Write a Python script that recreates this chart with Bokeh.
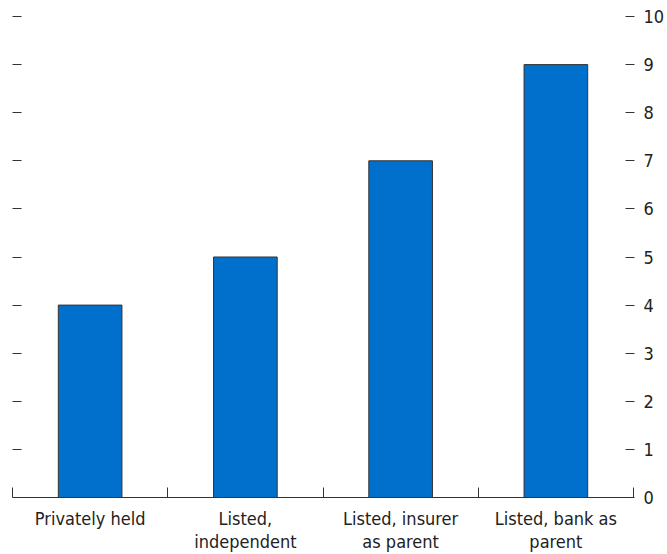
import numpy as np
from bokeh.plotting import figure
from bokeh.models import Range1d, LinearAxis, FixedTicker, ColumnDataSource
from bokeh.embed import file_html
from bokeh.resources import INLINE

categories = ["Privately held", "Listed,\nindependent", "Listed, insurer\nas parent", "Listed, bank as\nparent"]
values = [4, 5, 7, 9]
y_ticks = [0, 1, 2, 3, 4, 5, 6, 7, 8, 9, 10]

FONT = "'Liberation Sans Narrow', 'DejaVu Sans Condensed', 'Roboto Condensed', 'Arial Narrow', Roboto, sans-serif"
DARK = "#333333"

idx = list(range(len(categories)))
src = ColumnDataSource(dict(x=idx, top=values))

p = figure(width=667, height=554, output_backend="svg", toolbar_location=None,
           x_range=Range1d(-0.5, len(categories) - 0.5), y_range=Range1d(0, 10),
           min_border_left=12, min_border_right=33, min_border_top=16, min_border_bottom=57,
           y_axis_location=None, x_axis_location=None)
p.outline_line_color = None
p.grid.visible = False
p.background_fill_color = "white"

p.vbar(x="x", top="top", width=0.41, bottom=0, source=src,
       fill_color="#0070CC", line_color=DARK, line_width=1)

# bottom axis
xb = LinearAxis(ticker=FixedTicker(ticks=idx, minor_ticks=[i - 0.5 for i in range(len(categories) + 1)]),
                major_label_overrides={i: c for i, c in enumerate(categories)})
xb.axis_line_color = DARK
xb.major_tick_line_color = None
xb.minor_tick_line_color = DARK
xb.minor_tick_in = 10
xb.minor_tick_out = 0
xb.major_label_text_font = FONT
xb.major_label_text_font_size = "18px"
xb.major_label_text_line_height = 1.1
xb.major_label_text_color = "#222222"
xb.major_label_standoff = 4
p.add_layout(xb, "below")

# left axis (ticks only)
yl = LinearAxis(ticker=FixedTicker(ticks=y_ticks[1:]))
yl.axis_line_color = None
yl.major_tick_line_color = DARK
yl.major_tick_in = 9
yl.major_tick_out = 0
yl.minor_tick_line_color = None
yl.major_label_text_font_size = "0px"
yl.major_label_text_color = None
yl.major_label_standoff = 0
p.add_layout(yl, "left")

# right axis
yr = LinearAxis(ticker=FixedTicker(ticks=y_ticks))
yr.axis_line_color = None
yr.major_tick_line_color = DARK
yr.major_tick_in = 8
yr.major_tick_out = 1
yr.minor_tick_line_color = None
yr.major_label_text_font = FONT
yr.major_label_text_font_size = "18px"
yr.major_label_text_color = "#222222"
yr.major_label_standoff = 9
p.add_layout(yr, "right")

open("out.html", "w").write(file_html(p, INLINE))
